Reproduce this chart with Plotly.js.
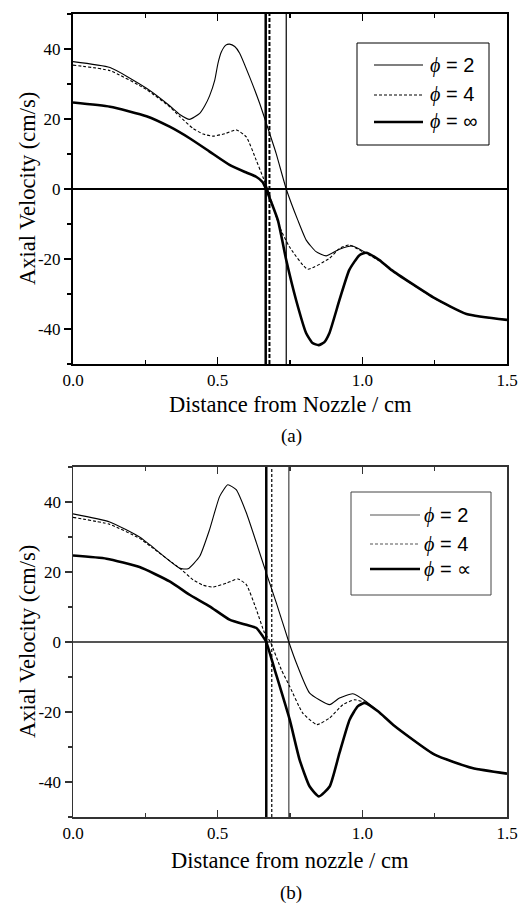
<!DOCTYPE html>
<html>
<head>
<meta charset="utf-8">
<script src="https://cdn.plot.ly/plotly-3.0.1.min.js"></script>
<style>html,body{margin:0;padding:0;background:#fff;}#chart{width:520px;height:912px;}</style>
</head>
<body>
<div id="chart"></div>
<script>
// ---------- Panel (a) data ----------
const a_phi2_x = [0, 0.128, 0.254, 0.334, 0.369, 0.403, 0.438, 0.455, 0.472, 0.49, 0.501, 0.513, 0.528, 0.541, 0.559, 0.576, 0.61, 0.645, 0.668, 0.702, 0.737, 0.777, 0.806, 0.84, 0.875, 0.921, 0.966, 1.013, 1.059, 1.1, 1.25, 1.36, 1.5];
const a_phi2_y = [36.4, 34.7, 28.8, 23.8, 21.3, 19.9, 21.6, 23.7, 26.6, 31.1, 35.9, 39.2, 41.1, 41.4, 40.7, 38.8, 32.1, 24.5, 18.8, 10.2, 0, -8.9, -14.6, -17.9, -19.1, -17.2, -16.3, -18.2, -20.3, -23.1, -31.2, -35.7, -37.4];
const a_phi4_x = [0, 0.128, 0.254, 0.334, 0.369, 0.415, 0.45, 0.484, 0.525, 0.564, 0.599, 0.633, 0.656, 0.673, 0.714, 0.748, 0.811, 0.886, 0.921, 0.955, 1.001, 1.059, 1.1, 1.25, 1.36, 1.5];
const a_phi4_y = [35.4, 33.8, 28.4, 23.5, 20.7, 17.3, 15.7, 15.1, 15.8, 16.9, 14.9, 8.3, 3.5, 0, -10.8, -16.5, -22.9, -19.8, -17.0, -16.0, -17.9, -20.5, -23.2, -31.3, -35.7, -37.4];
const a_phiInf_x = [0, 0.128, 0.254, 0.334, 0.403, 0.472, 0.541, 0.599, 0.633, 0.655, 0.667, 0.708, 0.737, 0.771, 0.806, 0.828, 0.849, 0.868, 0.886, 0.921, 0.955, 0.99, 1.013, 1.059, 1.1, 1.25, 1.36, 1.5];
const a_phiInf_y = [24.7, 23.5, 20.8, 17.8, 14.5, 10.7, 6.9, 4.7, 3.5, 2.0, 0, -8.9, -20.3, -31.7, -41.2, -44.0, -44.6, -43.8, -41.2, -31.7, -23.1, -18.9, -18.2, -20.3, -23.1, -31.2, -35.7, -37.4];
// stagnation-plane markers (phi=inf, phi=4, phi=2)
const a_vlines = [0.666, 0.679, 0.737];

// ---------- Panel (b) data ----------
const b_phi2_x = [0, 0.127, 0.23, 0.265, 0.368, 0.397, 0.438, 0.472, 0.507, 0.535, 0.564, 0.599, 0.634, 0.668, 0.703, 0.746, 0.772, 0.818, 0.887, 0.921, 0.967, 1.013, 1.054, 1.107, 1.25, 1.38, 1.5];
const b_phi2_y = [36.6, 34.3, 30.0, 27.8, 21.1, 20.9, 24.5, 32.1, 41.6, 44.9, 43.5, 36.9, 28.3, 19.7, 11.1, 0, -6.0, -14.6, -17.9, -16.0, -14.8, -17.0, -19.8, -23.7, -32.2, -36.0, -37.6];
const b_phi4_x = [0, 0.127, 0.23, 0.265, 0.374, 0.415, 0.45, 0.484, 0.53, 0.57, 0.599, 0.634, 0.662, 0.682, 0.72, 0.749, 0.794, 0.843, 0.887, 0.933, 0.973, 1.013, 1.054, 1.107, 1.25, 1.38, 1.5];
const b_phi4_y = [35.6, 33.6, 29.6, 27.5, 20.7, 17.8, 16.2, 15.7, 16.8, 18.0, 16.4, 9.2, 2.6, 0, -7.9, -12.7, -20.3, -23.6, -21.7, -17.9, -16.5, -17.4, -19.8, -23.7, -32.2, -36.0, -37.6];
const b_phiInf_x = [0, 0.116, 0.23, 0.334, 0.403, 0.472, 0.541, 0.599, 0.634, 0.656, 0.668, 0.697, 0.749, 0.783, 0.818, 0.85, 0.887, 0.921, 0.956, 0.984, 1.008, 1.054, 1.107, 1.25, 1.38, 1.5];
const b_phiInf_y = [24.7, 23.8, 21.4, 17.3, 13.5, 10.2, 6.4, 4.9, 4.0, 1.6, 0, -7.9, -22.2, -33.6, -41.3, -44.1, -41.3, -31.7, -22.2, -18.4, -17.4, -19.8, -23.7, -32.2, -36.0, -37.6];
const b_vlines = [0.668, 0.687, 0.746];

const legendA = ['2', '4', '∞'];
const legendB = ['2', '4', '∝'];
const yTickVals = [-40, -20, 0, 20, 40];
const yTickText = ['-40', '-20', '0', '20', '40'];
const xTickVals = [0, 0.5, 1.0, 1.5];
const xTickText = ['0.0', '0.5', '1.0', '1.5'];
const yRange = [-50, 50];
const xRange = [0, 1.5];

const SERIF = 'Liberation Serif';
const SANS = 'Liberation Sans';

// pixel -> paper helpers (plot area spans x 73..507, y 14..817)
const PL = 73, PW = 434, PB = 817, PH = 803;
const px = v => (v - PL) / PW;
const py = v => (PB - v) / PH;

function vline(x, xa, ya, style) {
  return {x: [x, x], y: yRange, xaxis: xa, yaxis: ya, mode: 'lines', showlegend: false,
          hoverinfo: 'skip', line: style};
}
const SM = 0.5;
const styleThin = {color: '#000', width: 1.1, shape: 'spline', smoothing: SM};
const styleDash = {color: '#000', width: 1.1, dash: '3px,2px', shape: 'spline', smoothing: SM};
const styleThick = {color: '#000', width: 2.6, shape: 'spline', smoothing: SM};

const traces = [
  vline(a_vlines[0], 'x', 'y', {color: '#000', width: 2.5}),
  vline(a_vlines[1], 'x', 'y', {color: '#000', width: 2, dash: '4px,2px'}),
  vline(a_vlines[2], 'x', 'y', {color: '#000', width: 1.2}),
  {x: a_phi2_x, y: a_phi2_y, xaxis: 'x', yaxis: 'y', mode: 'lines', line: styleThin},
  {x: a_phi4_x, y: a_phi4_y, xaxis: 'x', yaxis: 'y', mode: 'lines', line: styleDash},
  {x: a_phiInf_x, y: a_phiInf_y, xaxis: 'x', yaxis: 'y', mode: 'lines', line: styleThick},
  vline(b_vlines[0], 'x2', 'y2', {color: '#000', width: 2.5}),
  vline(b_vlines[1], 'x2', 'y2', {color: '#000', width: 1.2, dash: '3px,2px'}),
  vline(b_vlines[2], 'x2', 'y2', {color: '#444', width: 1.2}),
  {x: b_phi2_x, y: b_phi2_y, xaxis: 'x2', yaxis: 'y2', mode: 'lines', line: styleThin},
  {x: b_phi4_x, y: b_phi4_y, xaxis: 'x2', yaxis: 'y2', mode: 'lines', line: styleDash},
  {x: b_phiInf_x, y: b_phiInf_y, xaxis: 'x2', yaxis: 'y2', mode: 'lines', line: styleThick},
];

function xaxisDef(anchor, color, lw) {
  return {anchor: anchor, domain: [0, 1], range: xRange, tickmode: 'array', tickvals: xTickVals, ticktext: xTickText,
    ticks: 'inside', ticklen: 7, tickwidth: 1.5, tickcolor: color,
    minor: {dtick: 0.25, tick0: 0, ticks: 'inside', ticklen: 4, tickwidth: 1.5, tickcolor: color, showgrid: false},
    showline: true, linecolor: color, linewidth: lw, mirror: 'ticks', showgrid: false, zeroline: false,
    tickfont: {family: SERIF, size: 17, color: '#000'}, fixedrange: true};
}
function yaxisDef(anchor, domain, color, lw, zlw, zlc) {
  return {anchor: anchor, domain: domain, range: yRange, tickmode: 'array', tickvals: yTickVals, ticktext: yTickText,
    ticks: 'outside', ticklen: 7, tickwidth: 1.5, tickcolor: color,
    minor: {dtick: 10, tick0: 0, ticks: 'outside', ticklen: 4, tickwidth: 1.5, tickcolor: color, showgrid: false},
    showline: true, linecolor: color, linewidth: lw, mirror: true, showgrid: false,
    zeroline: true, zerolinecolor: zlc, zerolinewidth: zlw,
    tickfont: {family: SERIF, size: 17, color: '#000'}, fixedrange: true};
}

// manual legends
function legendShapes(box, lineX, rowsY, styles, border) {
  const s = [{type: 'rect', xref: 'paper', yref: 'paper', x0: px(box[0]), x1: px(box[1]), y0: py(box[3]), y1: py(box[2]),
              line: {color: border, width: 1}, fillcolor: '#fff', layer: 'above'}];
  rowsY.forEach((yy, i) => s.push({type: 'line', xref: 'paper', yref: 'paper', x0: px(lineX[0]), x1: px(lineX[1]),
      y0: py(yy), y1: py(yy), line: styles[i], layer: 'above'}));
  return s;
}
function legendAnn(labels, textX, rowsY) {
  return labels.map((lab, i) => ({
    text: '<span style="font-family:Liberation Serif"><i>ϕ</i></span> = ' + lab,
    xref: 'paper', yref: 'paper', x: px(textX), y: py(rowsY[i]), xanchor: 'left', yanchor: 'middle',
    showarrow: false, font: {family: SANS, size: 20, color: '#000'}}));
}
const rowsA = [65, 95, 122];
const rowsB = [515, 544, 569];
const shapes = [
  ...legendShapes([357, 489, 43, 145], [374, 423], rowsA,
    [{color: '#000', width: 1.1}, {color: '#000', width: 1.1, dash: '3px,2px'}, {color: '#000', width: 2.6}], '#000'),
  ...legendShapes([351, 491, 492, 595], [370, 420], rowsB,
    [{color: '#555', width: 1.1}, {color: '#555', width: 1.1, dash: '3px,2px'}, {color: '#000', width: 2.6}], '#444'),
];

const layout = {
  width: 520, height: 912,
  margin: {l: 73, r: 13, t: 14, b: 95},
  paper_bgcolor: '#fff', plot_bgcolor: '#fff',
  showlegend: false,
  font: {family: SERIF, color: '#000'},
  xaxis: xaxisDef('y', '#000', 2),
  yaxis: yaxisDef('x', [0.5641, 1], '#000', 2, 2, '#000'),
  xaxis2: xaxisDef('y2', '#333', 1.5),
  yaxis2: yaxisDef('x2', [0, 0.4359], '#333', 1.5, 1.2, '#555'),
  shapes: shapes,
  annotations: [
    ...legendAnn(legendA, 428, rowsA),
    ...legendAnn(legendB, 422, rowsB),
    {text: 'Distance from Nozzle / cm', xref: 'paper', yref: 'paper', x: 0.5, y: py(405),
     xanchor: 'center', yanchor: 'middle', showarrow: false, font: {family: SERIF, size: 22.5, color: '#000'}},
    {text: '(a)', xref: 'paper', yref: 'paper', x: px(291), y: py(436),
     xanchor: 'center', yanchor: 'middle', showarrow: false, font: {family: SERIF, size: 19, color: '#000'}},
    {text: 'Axial Velocity (cm/s)', xref: 'paper', yref: 'paper', x: px(27), y: py(189), textangle: -90,
     xanchor: 'center', yanchor: 'middle', showarrow: false, font: {family: SERIF, size: 22.5, color: '#000'}},
    {text: 'Distance from nozzle / cm', xref: 'paper', yref: 'paper', x: 0.5, y: py(860),
     xanchor: 'center', yanchor: 'middle', showarrow: false, font: {family: SERIF, size: 22.5, color: '#000'}},
    {text: '(b)', xref: 'paper', yref: 'paper', x: px(291), y: py(893),
     xanchor: 'center', yanchor: 'middle', showarrow: false, font: {family: SERIF, size: 19, color: '#000'}},
    {text: 'Axial Velocity (cm/s)', xref: 'paper', yref: 'paper', x: px(27), y: py(642), textangle: -90,
     xanchor: 'center', yanchor: 'middle', showarrow: false, font: {family: SERIF, size: 22.5, color: '#000'}},
  ]
};

Plotly.newPlot('chart', traces, layout, {displayModeBar: false, staticPlot: true});
</script>
</body>
</html>
